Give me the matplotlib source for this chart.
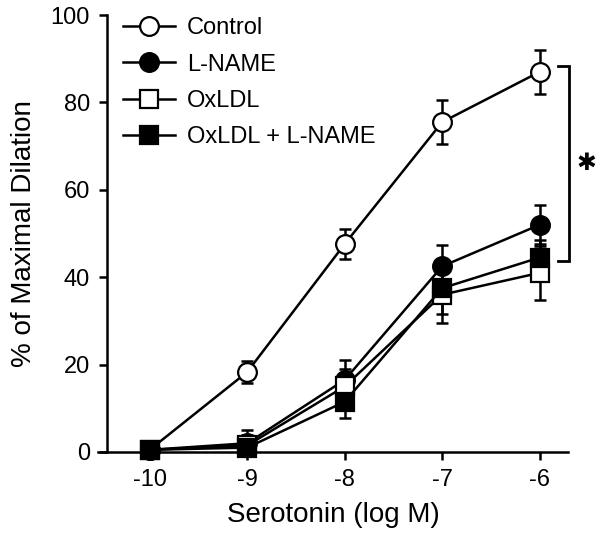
import matplotlib
matplotlib.use("Agg")
import matplotlib.pyplot as plt

plt.rcParams['font.family'] = ['Liberation Sans', 'DejaVu Sans']

x = [-10, -9, -8, -7, -6]
control = [0.5, 18.3, 47.6, 75.5, 87.0]
control_err = [0.5, 2.5, 3.5, 5.0, 5.0]
lname = [0.5, 2.0, 16.5, 42.5, 52.0]
lname_err = [0.5, 3.0, 4.5, 4.8, 4.5]
oxldl = [0.5, 1.5, 15.0, 36.0, 41.0]
oxldl_err = [0.5, 2.5, 4.0, 6.5, 6.2]
oxldl_lname = [0.5, 1.0, 11.5, 37.5, 44.5]
oxldl_lname_err = [0.5, 2.0, 3.8, 6.0, 4.0]

labels = ["Control", "L-NAME", "OxLDL", "OxLDL + L-NAME"]
xticks = [-10, -9, -8, -7, -6]
yticks = [0, 20, 40, 60, 80, 100]

fig = plt.figure(figsize=(6.0, 5.41), dpi=100)
ax = fig.add_axes([98/600, 1-452/541, (568-98)/600, (452-15)/541])

series = [
    (control, control_err, 'o', 'white'),
    (lname, lname_err, 'o', 'black'),
    (oxldl, oxldl_err, 's', 'white'),
    (oxldl_lname, oxldl_lname_err, 's', 'black'),
]
handles = []
for (vals, errs, mk, fc), lab in zip(series, labels):
    ax.errorbar(x, vals, yerr=errs, fmt='none', ecolor='black', elinewidth=1.8,
                capsize=4.5, capthick=1.8, clip_on=False, zorder=2)
    h, = ax.plot(x, vals, color='black', lw=1.8, marker=mk, markersize=13.5 if mk == 'o' else 12.5,
                 markerfacecolor=fc, markeredgecolor='black', markeredgewidth=1.6,
                 clip_on=False, zorder=3, label=lab)
    handles.append(h)

ax.set_xlim(-10.53, -5.71)
ax.set_ylim(0, 100)
ax.spines['top'].set_visible(False)
ax.spines['right'].set_visible(False)
ax.spines['left'].set_position(('data', -10.44))
ax.spines['left'].set_linewidth(1.8)
ax.spines['bottom'].set_linewidth(1.8)
ax.set_xticks(xticks)
ax.set_xticklabels([str(v) for v in xticks])
ax.set_yticks(yticks)
ax.tick_params(axis='both', labelsize=17, width=1.8, length=6, direction='out', pad=6)
ax.set_xlabel("Serotonin (log M)", fontsize=20, labelpad=8)
ax.set_ylabel("% of Maximal Dilation", fontsize=20, labelpad=10)

leg = ax.legend(handles=handles, loc='upper left', bbox_to_anchor=(114/600, 1-8/541),
                bbox_transform=fig.transFigure, frameon=False, fontsize=17,
                handlelength=2.2, handletextpad=0.5, labelspacing=0.6, borderaxespad=0)

# significance bracket
bx = -6 + (569-540)/97.5
bx0 = bx - 11/97.5
y_top = (452-66)/4.37
y_bot = (452-261)/4.37
ax.plot([bx0, bx, bx, bx0], [y_top, y_top, y_bot, y_bot], color='black', lw=2,
        clip_on=False, solid_joinstyle='miter')
ax.text(bx + 18/97.5, (452-163)/4.37, "\u2731", fontsize=17, family=['DejaVu Sans'],
        ha='center', va='center')

fig.savefig("out.png", dpi=100)
